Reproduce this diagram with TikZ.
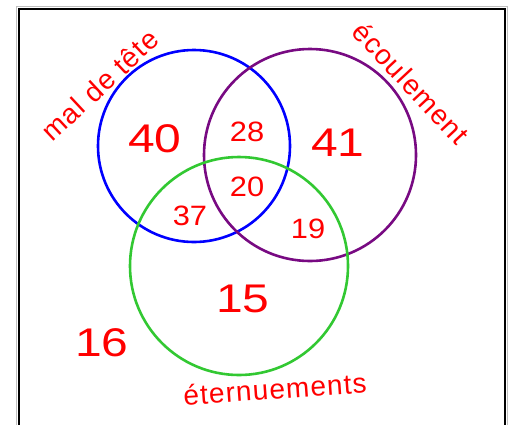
\documentclass[tikz,border=0pt]{standalone}
\usepackage{fontspec}
\setmainfont{Liberation Sans}
\usetikzlibrary{positioning}

\definecolor{vred}{RGB}{255,0,0}
\definecolor{vblue}{RGB}{0,0,255}
\definecolor{vpurple}{RGB}{120,10,130}
\definecolor{vgreen}{RGB}{50,200,50}

\begin{document}
\begin{tikzpicture}[
    x=1pt, y=-1pt,
    ring/.style={line width=2.6pt},
    bignum/.style={text=vred, font=\fontsize{40}{40}\selectfont, inner sep=0pt, xscale=1.2},
    smallnum/.style={text=vred, font=\fontsize{28}{28}\selectfont, inner sep=0pt, xscale=1.1},
    setlabel/.style={text=vred, font=\fontsize{28}{28}\selectfont\addfontfeature{LetterSpace=4},
                     inner sep=0pt}
  ]
  \useasboundingbox (0,0) rectangle (513,424);

  % frame, open at the bottom
  \draw[gray!50, line width=1pt] (16.5,430) -- (16.5,6.5) -- (507,6.5) -- (507,430);
  \draw[line width=2pt] (18.5,430) -- (18.5,8.5) -- (505,8.5) -- (505,430);

  % the three sets
  \draw[ring, vblue]   (194,146) circle (96);
  \draw[ring, vpurple] (310,155) circle (106);
  \draw[ring, vgreen]  (239,266) circle (109);

  % set names
  \node[setlabel, rotate=43]  (headache) at (100,85)  {mal de tête};
  \node[setlabel, rotate=-47] (runny)    at (411,83)  {écoulement};
  \node[setlabel, rotate=4]   (sneeze)   at (275,389) {éternuements};

  % counts
  \node[bignum]   (onlyA)  at (155,139) {40};
  \node[bignum]   (onlyB)  at (338,143) {41};
  \node[bignum]   (onlyC)  at (243,299) {15};
  \node[bignum]   (none)   at (102,343) {16};
  \node[smallnum] (AB)     at (247,132) {28};
  \node[smallnum] (ABC)    at (247,187) {20};
  \node[smallnum] (AC)     at (190,216) {37};
  \node[smallnum] (BC)     at (308,229) {19};
\end{tikzpicture}
\end{document}
